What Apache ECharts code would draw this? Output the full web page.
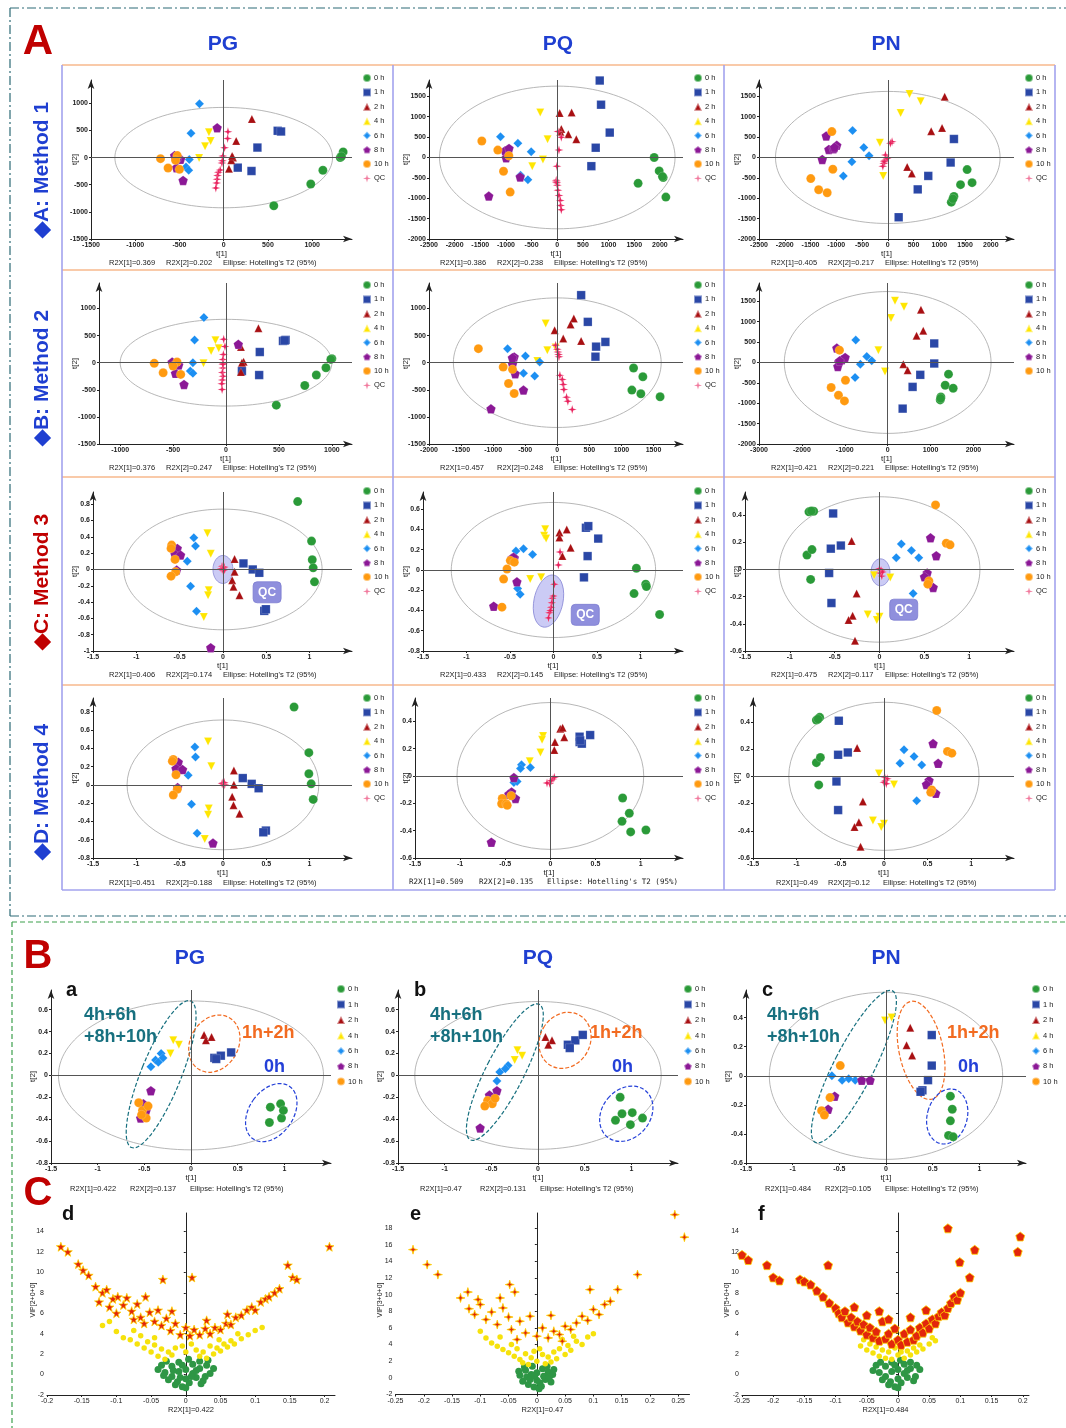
<!DOCTYPE html>
<html>
<head>
<meta charset="utf-8">
<script src="https://cdn.jsdelivr.net/npm/echarts@6/dist/echarts.min.js"></script>
<style>html,body{margin:0;padding:0;background:#fff}#main{width:1066px;height:1428px}</style>
</head>
<body>
<div id="main"></div>
<script>
// ---- groups ----
var groups = ['0 h', '1 h', '2 h', '4 h', '6 h', '8 h', '10 h', 'QC'];

// ---- A: score plots, one list per panel, ordered like groups ----
var pgM1 = [
  [[1350,105],[1317,0],[1121,-234],[984,-487],[566,-888],[1330,20]],
  [[610,494],[648,481],[381,185],[159,-185],[314,-247]],
  [[318,710],[141,308],[104,0],[85,-49],[59,-204],[95,30]],
  [[-167,469],[-148,308],[-211,210],[-278,-6]],
  [[-274,993],[-370,450],[-389,-37],[-426,-173],[-396,-234]],
  [[-74,549],[-555,37],[-488,-31],[-533,-185],[-459,-420],[-520,10]],
  [[-714,-19],[-629,-191],[-500,-216],[-525,37],[-544,-49]],
  [[48,475],[44,350],[10,180],[-10,30],[-20,-100],[-40,-230],[-60,-270],[-70,-330],[-75,-400],[-80,-470],[-89,-560],[-15,-60]]
];
var pqM1 = [
  [[1888,0],[1986,-330],[2064,-494],[2116,-972],[1575,-634],[2050,-470]],
  [[827,1887],[853,1294],[1022,610],[749,239],[664,-214]],
  [[46,1088],[280,1104],[78,700],[215,569],[371,445],[60,630]],
  [[-332,1104],[-189,445],[-280,-49],[-488,-214]],
  [[-1107,511],[-768,346],[-508,140],[-716,-437],[-573,-544]],
  [[-963,198],[-1016,165],[-996,-8],[-723,-478],[-1335,-948],[-940,220]],
  [[-1471,404],[-1159,181],[-944,41],[-1048,-338],[-918,-849]],
  [[13,634],[78,494],[33,181],[-7,-214],[-20,-560],[0,-684],[13,-807],[33,-931],[59,-1055],[65,-1178],[78,-1285],[-20,-600],[-10,-620]]
];
var pnM1 = [
  [[1540,-297],[1412,-667],[1636,-618],[1284,-956],[1233,-1096],[1265,-1013]],
  [[1284,453],[1220,-124],[786,-453],[581,-783],[211,-1467]],
  [[1105,1491],[1054,725],[843,643],[377,-231],[466,-396]],
  [[422,1557],[639,1376],[249,1088],[-153,363],[-89,-453]],
  [[-684,659],[-466,247],[-364,41],[-697,-107],[-863,-453]],
  [[-1195,527],[-1144,198],[-1054,214],[-990,297],[-1272,-49],[-1035,247]],
  [[-1086,634],[-1067,-288],[-1495,-519],[-1342,-791],[-1176,-865]],
  [[83,387],[51,346],[-45,58],[-58,-66],[-77,-148],[-96,-214],[-13,-25],[-70,-107]]
];
var pgM2 = [
  [[1000,74],[944,-93],[853,-228],[744,-420],[475,-784],[990,60]],
  [[538,401],[563,420],[319,197],[150,-154],[313,-228],[555,410]],
  [[306,636],[141,290],[166,19],[141,-173],[150,0]],
  [[-100,413],[-141,216],[-69,265],[-213,-12]],
  [[-209,833],[-297,420],[-313,0],[-338,-154],[-313,-197]],
  [[116,339],[-509,12],[-447,-43],[-478,-197],[-397,-401]],
  [[-678,-12],[-594,-185],[-463,12],[-500,-62],[-428,-216]],
  [[-22,432],[-10,300],[-25,150],[-30,60],[-25,-20],[-30,-100],[-35,-180],[-28,-250],[-35,-320],[-40,-390],[-37,-494],[-30,-30]]
];
var pqM2 = [
  [[1189,-99],[1334,-259],[1163,-506],[1303,-574],[1603,-629]],
  [[372,1246],[476,753],[750,383],[605,296],[595,111]],
  [[258,815],[207,704],[-41,599],[93,444],[372,401]],
  [[-181,722],[-155,228],[-26,278],[-310,31]],
  [[-775,259],[-496,123],[-274,12],[-527,-197],[-352,-247]],
  [[-672,105],[-698,-31],[-656,-204],[-527,-506],[-1034,-851],[-700,90]],
  [[-1230,259],[-843,-80],[-698,-123],[-760,-383],[-672,-568]],
  [[-26,321],[10,197],[26,111],[41,-234],[78,-309],[93,-401],[103,-494],[145,-636],[165,-710],[233,-864],[0,247],[20,150]]
];
var pnM2 = [
  [[1418,-287],[1341,-558],[1527,-631],[1240,-845],[1225,-918],[1235,-880]],
  [[1085,467],[1085,-25],[760,-303],[581,-599],[349,-1132]],
  [[775,1296],[829,779],[674,656],[364,-41],[465,-189]],
  [[171,1517],[380,1369],[78,1091],[-217,303],[-62,-221]],
  [[-744,549],[-488,148],[-372,41],[-636,-41],[-760,-369]],
  [[-1186,353],[-1139,16],[-1070,66],[-992,123],[-1163,-98],[-1120,40]],
  [[-1124,303],[-984,-435],[-1318,-615],[-1147,-804],[-1008,-943]],
  []
];
var pgM3 = [
  [[0.863,0.832],[1.023,0.348],[1.031,0.119],[1.042,0.02],[1.057,-0.152]],
  [[0.237,0.074],[0.344,0],[0.42,-0.041],[0.477,-0.508],[0.496,-0.488]],
  [[0.134,0.127],[0.134,-0.029],[0.107,-0.131],[0.122,-0.213],[0.191,-0.316]],
  [[-0.179,0.443],[-0.141,0.193],[-0.164,-0.254],[-0.172,-0.316],[-0.221,-0.582]],
  [[-0.336,0.389],[-0.317,0.287],[-0.412,0.102],[-0.374,-0.205],[-0.305,-0.512]],
  [[-0.527,0.258],[-0.553,0.184],[-0.489,0.176],[-0.534,-0.008],[-0.141,-0.959]],
  [[-0.592,0.299],[-0.599,0.258],[-0.553,0.123],[-0.546,-0.029],[-0.599,-0.082]],
  [[-0.01,0.04],[0.01,0.02],[0.02,0],[-0.02,0.01],[0,-0.01],[0.015,0.03],[-0.005,0.005],[0.02,-0.005]]
];
var pqM3 = [
  [[0.954,0.017],[1.061,-0.14],[1.069,-0.163],[0.927,-0.233],[1.221,-0.44]],
  [[0.374,0.417],[0.401,0.433],[0.515,0.31],[0.393,0.137],[0.351,-0.073]],
  [[0.153,0.4],[0.069,0.37],[0.069,0.32],[0.198,0.22],[0.103,0.137]],
  [[-0.095,0.403],[-0.107,0.337],[-0.084,0.31],[-0.267,-0.09],[-0.141,-0.073]],
  [[-0.431,0.187],[-0.344,0.21],[-0.24,0.153],[-0.412,-0.183],[-0.382,-0.24]],
  [[-0.45,0.12],[-0.477,0.117],[-0.42,-0.117],[-0.687,-0.357],[-0.46,0.125]],
  [[-0.496,0.093],[-0.45,0.077],[-0.534,0.01],[-0.573,-0.09],[-0.592,-0.367]],
  [[0.057,0.05],[0.076,0.177],[0.011,-0.14],[-0.011,-0.28],[-0.019,-0.323],[-0.027,-0.367],[-0.046,-0.423],[-0.057,-0.473],[0,-0.257],[-0.035,-0.4]]
];
var pnM3 = [
  [[-0.787,0.424],[-0.734,0.428],[-0.809,0.106],[-0.753,0.146],[-0.768,-0.073],[-0.76,0.43]],
  [[-0.517,0.412],[-0.431,0.176],[-0.543,0.153],[-0.562,-0.026],[-0.536,-0.247]],
  [[-0.311,0.209],[-0.255,-0.176],[-0.3,-0.341],[-0.345,-0.372],[-0.273,-0.525]],
  [[-0.06,-0.042],[0.12,-0.059],[-0.131,-0.332],[0,-0.348],[-0.03,-0.372]],
  [[0.243,0.188],[0.356,0.139],[0.438,0.087],[0.187,0.087],[0.375,-0.176]],
  [[0.569,0.233],[0.633,0.101],[0.532,-0.026],[0.502,-0.054],[0.599,-0.132]],
  [[0.625,0.475],[0.745,0.193],[0.787,0.181],[0.551,-0.085],[0.539,-0.108]],
  [[0.019,-0.007],[0.007,-0.026],[0.026,-0.049],[0,0.005],[0.034,-0.019]]
];
var pgM4 = [
  [[0.821,0.852],[0.992,0.352],[0.992,0.122],[1.019,0.011],[1.042,-0.159]],
  [[0.229,0.074],[0.332,0.011],[0.412,-0.037],[0.496,-0.5],[0.466,-0.519]],
  [[0.126,0.156],[0.126,0],[0.107,-0.13],[0.122,-0.222],[0.191,-0.315]],
  [[-0.172,0.474],[-0.134,0.204],[-0.164,-0.259],[-0.172,-0.326],[-0.21,-0.593]],
  [[-0.324,0.415],[-0.317,0.304],[-0.401,0.104],[-0.363,-0.211],[-0.298,-0.53]],
  [[-0.515,0.248],[-0.542,0.178],[-0.466,0.167],[-0.523,-0.03],[-0.115,-0.637]],
  [[-0.573,0.278],[-0.584,0.259],[-0.542,0.111],[-0.527,-0.048],[-0.573,-0.111]],
  [[0,0.02],[0.01,0.01],[0.02,0],[-0.01,0.015],[0.015,0.025],[0.005,-0.005]]
];
var pqM4 = [
  [[0.801,-0.161],[0.875,-0.273],[0.794,-0.332],[0.89,-0.409],[1.059,-0.395]],
  [[0.324,0.287],[0.441,0.299],[0.324,0.248],[0.349,0.236],[0.33,0.26]],
  [[0.11,0.346],[0.136,0.353],[0.154,0.283],[0.051,0.248],[0.044,0.189]],
  [[-0.081,0.292],[-0.092,0.264],[-0.11,0.171],[-0.228,0.107]],
  [[-0.32,0.082],[-0.331,0.054],[-0.221,0.061],[-0.404,-0.047],[-0.368,-0.04]],
  [[-0.404,-0.012],[-0.43,-0.117],[-0.46,-0.133],[-0.386,-0.164],[-0.654,-0.484]],
  [[-0.533,-0.164],[-0.54,-0.203],[-0.489,-0.203],[-0.434,-0.145],[-0.478,-0.215]],
  [[-0.007,-0.056],[-0.037,-0.051],[0.029,-0.023],[0.044,-0.009],[0.007,-0.035]]
];
var pnM4 = [
  [[-0.774,0.413],[-0.736,0.433],[-0.774,0.1],[-0.728,0.138],[-0.747,-0.063],[-0.755,0.42]],
  [[-0.517,0.408],[-0.525,0.158],[-0.414,0.175],[-0.544,-0.038],[-0.525,-0.248]],
  [[-0.307,0.208],[-0.241,-0.185],[-0.287,-0.338],[-0.337,-0.373],[-0.268,-0.518]],
  [[-0.057,0.02],[0.115,-0.06],[-0.126,-0.325],[0,-0.348],[-0.031,-0.373]],
  [[0.23,0.195],[0.345,0.145],[0.433,0.083],[0.184,0.095],[0.375,-0.18]],
  [[0.563,0.24],[0.621,0.095],[0.517,-0.03],[0.487,-0.06],[0.594,-0.125]],
  [[0.605,0.483],[0.728,0.183],[0.778,0.17],[0.548,-0.1],[0.536,-0.118]],
  [[0.019,-0.03],[0,-0.043],[0.038,-0.018],[0.008,-0.005],[0.027,-0.055]]
];

// ---- B: score plots without QC ----
var pgB = [
  [[0.85,-0.29],[0.96,-0.26],[0.97,-0.39],[0.84,-0.43],[0.99,-0.32]],
  [[0.25,0.16],[0.32,0.18],[0.43,0.21],[0.27,0.15]],
  [[0.14,0.37],[0.22,0.35],[0.16,0.32]],
  [[-0.19,0.32],[-0.13,0.28],[-0.22,0.2]],
  [[-0.32,0.2],[-0.38,0.14],[-0.3,0.16],[-0.43,0.08],[-0.35,0.12]],
  [[-0.43,-0.14],[-0.51,-0.26],[-0.48,-0.32],[-0.54,-0.39]],
  [[-0.56,-0.25],[-0.52,-0.32],[-0.48,-0.39],[-0.53,-0.36],[-0.46,-0.28]]
];
var pqB = [
  [[0.88,-0.2],[0.9,-0.35],[1.01,-0.34],[0.83,-0.41],[1.12,-0.39],[0.99,-0.45]],
  [[0.32,0.28],[0.4,0.32],[0.48,0.37],[0.34,0.25]],
  [[0.08,0.35],[0.15,0.32],[0.11,0.28]],
  [[-0.22,0.23],[-0.17,0.18],[-0.25,0.14]],
  [[-0.32,0.09],[-0.41,0.03],[-0.35,0.06],[-0.44,-0.05]],
  [[-0.44,-0.14],[-0.52,-0.18],[-0.62,-0.48],[-0.48,-0.22]],
  [[-0.54,-0.23],[-0.49,-0.26],[-0.57,-0.28],[-0.46,-0.21]]
];
var pnB = [
  [[0.69,-0.14],[0.71,-0.23],[0.69,-0.31],[0.67,-0.41],[0.72,-0.42]],
  [[0.49,0.28],[0.49,0.07],[0.45,-0.03],[0.39,-0.1],[0.37,-0.11]],
  [[0.26,0.33],[0.22,0.21],[0.28,0.14]],
  [[-0.01,0.38],[0.06,0.4]],
  [[-0.33,-0.03],[-0.47,-0.03],[-0.58,0],[-0.4,-0.02]],
  [[-0.26,-0.03],[-0.17,-0.03],[-0.55,-0.14],[-0.62,-0.23]],
  [[-0.69,-0.24],[-0.6,-0.15],[-0.49,0.07],[-0.66,-0.27]]
];

// ---- C: VIP plots ----
var vipPG_green = [[-0.03,0.2],[-0.025,-0.5],[-0.02,0.8],[-0.015,-1],[-0.01,0.3],[-0.005,-1.2],[0,0.5],[0.005,-0.8],[0.01,1],[0.015,-0.3],[0.02,0.6],[0.025,-0.6],[0.03,0.9],[0.035,0.1],[-0.035,0.9],[-0.02,-0.2],[0,-0.4],[0.01,0.1],[-0.01,1.2],[0.02,1.3],[-0.028,1.3],[0.004,1.5],[-0.012,-0.7],[0.028,-0.2],[0.04,0.6],[-0.04,0.5],[0,-1.3],[0.015,0.4],[-0.005,0.9],[0.032,1.4],[-0.018,0.4],[0.008,-0.2],[-0.032,-0.1],[0.022,-0.9],[-0.008,-0.3]];
var vipPG_yellow = [[-0.12,4.8],[-0.1,4.2],[-0.09,3.6],[-0.08,3.4],[-0.07,3],[-0.065,3.8],[-0.06,2.6],[-0.055,3.2],[-0.05,2.2],[-0.045,2.9],[-0.04,1.8],[-0.035,2.5],[-0.03,1.5],[-0.025,2.2],[-0.02,1.9],[-0.015,2.6],[0.015,2.4],[0.02,1.8],[0.025,2.2],[0.03,1.6],[0.035,2.8],[0.04,2],[0.045,2.6],[0.05,2.3],[0.055,3],[0.06,2.7],[0.065,3.3],[0.07,3],[0.08,3.5],[0.09,3.9],[0.1,4.3],[0.11,4.6],[-0.11,5.2],[-0.075,4.3],[0.075,4],[0,2.2],[-0.005,2.8],[0.008,3],[-0.045,3.6],[0.048,3.4]];
var vipPG_red = [[-0.18,12.5],[-0.17,12],[-0.155,10.8],[-0.148,10.2],[-0.14,9.7],[-0.13,8.6],[-0.12,8],[-0.114,8.3],[-0.105,7.4],[-0.098,7.6],[-0.09,6.8],[-0.085,7.5],[-0.078,6.2],[-0.07,6.9],[-0.065,5.6],[-0.058,7.6],[-0.052,6.1],[-0.045,5.2],[-0.04,6.3],[-0.035,4.8],[-0.033,9.3],[-0.028,5.5],[-0.022,4.3],[-0.015,5],[-0.008,3.9],[0,4.6],[0.009,9.5],[0.006,3.8],[0.012,4.4],[0.02,3.9],[0.028,4.5],[0.035,4],[0.042,4.6],[0.05,4.4],[0.058,5],[0.065,4.9],[0.072,5.6],[0.08,5.8],[0.088,6.3],[0.095,6.6],[0.1,6.3],[0.108,7.1],[0.115,7.4],[0.12,7.6],[0.128,8],[0.135,8.4],[0.147,10.7],[0.154,9.5],[0.16,9.3],[0.207,12.5],[-0.125,7.1],[-0.06,5],[-0.02,6.2],[0.03,5.3],[-0.1,6],[-0.11,6.6],[0.06,5.9],[-0.075,5.4]];

var vipPQ_green = [[-0.03,0.3],[-0.025,-0.4],[-0.02,0.9],[-0.015,-0.8],[-0.01,0.4],[-0.005,-1.1],[0,0.6],[0.005,-0.6],[0.01,1.1],[0.015,-0.2],[0.02,0.7],[0.025,-0.5],[0.03,1],[-0.022,1.3],[0,-0.3],[0.012,0.2],[-0.008,1.4],[0.018,1.4],[0.004,-1.3],[-0.018,0.1],[0.028,0.4],[-0.032,0.8],[0.008,-1],[-0.012,-0.2],[0.022,0.1],[-0.004,0.2]];
var vipPQ_yellow = [[-0.09,4.8],[-0.08,4.2],[-0.07,3.8],[-0.06,3.4],[-0.05,3],[-0.04,2.6],[-0.035,3.5],[-0.03,2.2],[-0.025,1.8],[-0.02,2.9],[-0.015,1.6],[-0.01,2.4],[0,2],[0.01,2.8],[0.015,1.7],[0.02,2.5],[0.025,1.9],[0.03,3.1],[0.035,2.3],[0.04,3.5],[0.05,2.8],[0.055,3.9],[0.06,3.3],[0.07,4.4],[0.08,4],[0.09,4.9],[0.1,5.3],[-0.1,5.6],[-0.065,4.9],[-0.045,4],[0.065,5],[0.005,3.5],[-0.005,3.2],[0.045,4.6]];
var vipPQ_red = [[-0.219,15.4],[-0.194,13.6],[-0.175,12.4],[-0.122,10.3],[-0.104,9.4],[-0.048,11.2],[-0.039,10.3],[0.094,10.6],[0.143,10.6],[0.178,12.4],[0.244,19.6],[0.261,16.9],[-0.12,8.3],[-0.11,7.6],[-0.1,8.8],[-0.09,7],[-0.08,7.9],[-0.07,6.4],[-0.06,8.4],[-0.05,7.3],[-0.045,5.8],[-0.03,6.8],[-0.02,5.4],[-0.012,7.4],[0,5],[0.01,6],[0.02,4.8],[0.03,5.6],[0.04,5.2],[0.05,6.2],[0.06,5.8],[0.07,6.6],[0.08,7.4],[0.09,6.9],[0.1,8.2],[0.11,7.6],[0.12,8.8],[0.13,9.2],[-0.135,9.6],[-0.065,9.6],[0.025,7.5],[-0.035,4.6],[0.045,4.4]];

var vipPN_green = [[-0.03,0.2],[-0.025,-0.5],[-0.02,0.8],[-0.015,-1],[-0.01,0.3],[-0.005,-1.2],[0,0.5],[0.005,-0.8],[0.01,1],[0.015,-0.3],[0.02,0.6],[0.025,-0.6],[0.03,0.9],[-0.035,0.9],[-0.02,-0.2],[0,-0.4],[0.01,0.1],[-0.01,1.2],[0.02,1.2],[0.004,1.4],[-0.012,-0.7],[0.028,-0.2],[-0.04,0.4],[0,-1.3],[0.015,0.4],[-0.005,0.9],[0.035,0.5],[-0.028,1.2]];
var vipPN_yellow = [[-0.06,2.8],[-0.05,2.4],[-0.045,3],[-0.04,2.1],[-0.035,2.7],[-0.03,1.8],[-0.025,2.4],[-0.02,1.6],[-0.015,2.2],[-0.01,1.5],[0,1.9],[0.01,1.6],[0.015,2.3],[0.02,1.9],[0.025,2.6],[0.03,2.2],[0.035,2.9],[0.04,2.5],[0.05,3],[0.055,3.6],[0.06,3.3],[-0.055,3.4],[-0.005,2.6],[0.005,2.2]];
var vipPN_red = [[-0.258,13.5],[-0.25,11.7],[-0.24,11.2],[-0.21,10.7],[-0.2,9.5],[-0.19,9.2],[-0.157,9.3],[-0.15,9.1],[-0.112,10.7],[0.099,11],[0.115,9.5],[0.123,12.2],[0.196,13.5],[0.192,12],[0.08,14.3],[-0.13,8.2],[-0.12,7.6],[-0.11,7],[-0.1,6.5],[-0.095,6],[-0.09,5.6],[-0.085,6.2],[-0.08,5.1],[-0.075,5.6],[-0.07,4.7],[-0.065,5.2],[-0.06,4.3],[-0.055,4.9],[-0.05,3.9],[-0.045,4.6],[-0.04,3.6],[-0.035,4.2],[-0.03,3.3],[-0.025,5.2],[-0.02,3.5],[-0.015,4],[-0.01,3],[-0.005,4.5],[0,3.4],[0.005,2.9],[0.01,4],[0.015,3.2],[0.02,4.4],[0.025,3.4],[0.03,3.8],[0.035,4.6],[0.04,4.1],[0.045,5],[0.05,4.5],[0.055,5.4],[0.06,5],[0.065,5.7],[0.07,6.1],[0.075,5.8],[0.08,6.5],[0.085,7],[0.09,7.6],[0.095,7.3],[0.1,8],[-0.14,8.8],[-0.07,6.6],[-0.05,5.8],[-0.03,6.2],[0.02,5.6],[0.045,6.3],[-0.015,5.4]];

// ---- texts ----
var r2xA = [
  ['R2X[1]=0.369','R2X[2]=0.202'],['R2X[1]=0.386','R2X[2]=0.238'],['R2X[1]=0.405','R2X[2]=0.217'],
  ['R2X[1]=0.376','R2X[2]=0.247'],['R2X[1=0.457','R2X[2]=0.248'],['R2X[1]=0.421','R2X[2]=0.221'],
  ['R2X[1]=0.406','R2X[2]=0.174'],['R2X[1]=0.433','R2X[2]=0.145'],['R2X[1]=0.475','R2X[2]=0.117'],
  ['R2X[1]=0.451','R2X[2]=0.188'],['R2X[1]=0.509','R2X[2]=0.135'],['R2X[1]=0.49','R2X[2]=0.12']
];
var r2xB = [['R2X[1]=0.422','R2X[2]=0.137'],['R2X[1]=0.47','R2X[2]=0.131'],['R2X[1]=0.484','R2X[2]=0.105']];
var vipNames = ['VIP[2+0+0]','VIP[3+0+0]','VIP[5+0+0]'];
var vipR2x = ['R2X[1]=0.422','R2X[1]=0.47','R2X[1]=0.484'];
var colTitles = ['PG','PQ','PN'];
var methodLabels = ['\u25C6A: Method 1','\u25C6B: Method 2','\u25C6C: Method 3','\u25C6D: Method 4'];

// ---- tick labels ----
var tk1500 = [-1500,-1000,-500,0,500,1000];
var tk2500 = [-2500,-2000,-1500,-1000,-500,0,500,1000,1500,2000];
var tk2000 = [-2000,-1500,-1000,-500,0,500,1000,1500];
var tk1000 = [-1000,-500,0,500,1000];
var tk3000 = [-3000,-2000,-1000,0,1000,2000];
var tk15 = [-1.5,-1,-0.5,0,0.5,1];
var tkY10 = [-1,-0.8,-0.6,-0.4,-0.2,0,0.2,0.4,0.6,0.8];
var tkY08 = [-0.8,-0.6,-0.4,-0.2,0,0.2,0.4,0.6,0.8];
var tkY08s = [-0.8,-0.6,-0.4,-0.2,0,0.2,0.4,0.6];
var tkY06 = [-0.6,-0.4,-0.2,0,0.2,0.4];
var tkVd = [-0.2,-0.15,-0.1,-0.05,0,0.05,0.1,0.15,0.2];
var tkVe = [-0.25,-0.2,-0.15,-0.1,-0.05,0,0.05,0.1,0.15,0.2,0.25];
var tkVf = [-0.25,-0.2,-0.15,-0.1,-0.05,0,0.05,0.1,0.15,0.2];
var tkV14 = [-2,0,2,4,6,8,10,12,14];
var tkV18 = [-2,0,2,4,6,8,10,12,14,16,18];

// ---- styling ----
var FONT = '"Liberation Sans", Arial, sans-serif';
var SYM_PENT = 'path://M0,-10L9.5,-3.1L5.9,8.1L-5.9,8.1L-9.5,-3.1Z';
var SYM_STAR4 = 'path://M0,-10L2.2,-2.2L10,0L2.2,2.2L0,10L-2.2,2.2L-10,0L-2.2,-2.2Z';
var SYM_STAR5 = 'path://M0,-10L2.35,-3.24L9.51,-3.09L3.8,1.24L5.88,8.09L0,4L-5.88,8.09L-3.8,1.24L-9.51,-3.09L-2.35,-3.24Z';
var gColors = ['#2a9a38','#2a47a6','#a80f12','#ffe600','#1c8ff2','#8b1896','#ff9a10','#e8205c'];
var gSymbols = ['circle','rect','triangle','triangle','diamond',SYM_PENT,'circle',SYM_STAR4];
var gRotate = [0,0,0,180,0,0,0,0];
var gSize = [9,8.5,8,8,9,9.5,9,9];

var grids = [], xAxes = [], yAxes = [], series = [], legends = [], gfx = [], ellipses = [];

function fmt(v) { return String(v); }

function axis(gi, isX, range, ticks, name, gap, bold, arrow) {
  return {
    type: 'value', gridIndex: gi, min: range[0], max: range[1],
    interval: ticks[1] - ticks[0],
    position: isX ? 'bottom' : 'left',
    name: name, nameLocation: 'middle', nameGap: gap,
    nameTextStyle: {fontSize: 8, color: '#222', fontFamily: FONT},
    axisLine: {onZero: false, symbol: arrow ? ['none', 'arrow'] : 'none', symbolSize: [5, 9], lineStyle: {color: '#222', width: 1}},
    axisTick: {show: true, length: 2, customValues: ticks, lineStyle: {color: '#222'}},
    axisLabel: {customValues: ticks, formatter: fmt, fontSize: 7, fontWeight: bold ? 'bold' : 'normal', color: '#222', margin: 3, fontFamily: FONT},
    splitLine: {show: false}
  };
}

function txt(s, x, y, size, color, o) {
  o = o || {};
  return {type: 'text', x: x, y: y, rotation: o.rot || 0, z: 20, silent: true,
    style: {text: s, fontSize: size, fontWeight: o.bold ? 'bold' : 'normal', fontFamily: o.family || FONT, fill: color,
      textAlign: o.align || 'left', textVerticalAlign: 'middle', align: o.align || 'left', verticalAlign: 'middle'}};
}
function ln(x1, y1, x2, y2, color, w, dash) {
  return {type: 'line', silent: true, z: 0, shape: {x1: x1, y1: y1, x2: x2, y2: y2}, style: {stroke: color, lineWidth: w, lineDash: dash || null}};
}

function scorePanel(data, rect, xr, xt, yr, yt, nameX, legendAt, ell) {
  var gi = grids.length;
  grids.push({left: rect[0], top: rect[1], width: rect[2], height: rect[3]});
  xAxes.push(axis(gi, true, xr, xt, 't[1]', 9, true, true));
  yAxes.push(axis(gi, false, yr, yt, '', 0, true, true));
  gfx.push(txt('t[2]', nameX, rect[1] + rect[3] / 2, 8, '#222', {rot: Math.PI / 2, align: 'center'}));
  var names = [];
  data.forEach(function (pts, g) {
    if (!pts.length) return;
    names.push(groups[g]);
    var s = {type: 'scatter', name: groups[g], xAxisIndex: gi, yAxisIndex: gi, data: pts, silent: true,
      symbol: gSymbols[g], symbolSize: gSize[g], symbolRotate: gRotate[g],
      itemStyle: {color: gColors[g], opacity: 1, borderColor: 'rgba(255,255,255,0.45)', borderWidth: 0.4}, z: g === 7 ? 4 : 3};
    if (names.length === 1) {
      s.markLine = {silent: true, symbol: 'none', animation: false, label: {show: false},
        lineStyle: {color: '#555', width: 1, type: 'solid'}, data: [{xAxis: 0}, {yAxis: 0}]};
    }
    series.push(s);
  });
  legends.push({orient: 'vertical', left: legendAt[0], top: legendAt[1], padding: 0, itemWidth: 8, itemHeight: 8,
    itemGap: legendAt[2], selectedMode: false, data: names,
    textStyle: {fontSize: 7.5, lineHeight: 8, color: '#222', fontFamily: FONT, padding: [0, 0, 0, -2]}});
  ellipses.push({gi: gi, a: ell[0], b: ell[1]});
  return gi;
}

// ---- section A layout ----
var colLeft = [62, 393, 724];
var rowTop = [65, 270, 477, 685];
var rowPad = [15, 13, 15, 13];
var rowAxis = [174, 174, 174, 173];
var legTop = [8, 10, 9, 8];
var dataA = [pgM1, pqM1, pnM1, pgM2, pqM2, pnM2, pgM3, pqM3, pnM3, pgM4, pqM4, pnM4];
var xRangeA = [[-1500,1450],[-2500,2450],[-2500,2450],[-1200,1190],[-2000,1960],[-3000,2945],[-1.5,1.49],[-1.5,1.49],[-1.5,1.5],[-1.5,1.49],[-1.5,1.47],[-1.5,1.49]];
var xTickA = [tk1500, tk2500, tk2500, tk1000, tk2000, tk3000, tk15, tk15, tk15, tk15, tk15, tk15];
var yRangeA = [[-1500,1430],[-2000,1900],[-2000,1900],[-1500,1470],[-1500,1470],[-2000,1950],[-1,0.95],[-0.8,0.77],[-0.6,0.57],[-0.8,0.95],[-0.6,0.57],[-0.6,0.575]];
var yTickA = [tk1500, tk2000, tk2000, tk1500, tk1500, tk2000, tkY10, tkY08s, tkY06, tkY08, tkY06, tkY06];
var yoffA = [29, 36, 35, 37, 36, 35, 31, 30, 21, 31, 22, 29];
var ellA = [[1230,925],[2295,1750],[2180,1620],[1000,800],[1620,1195],[2410,1740],[1.145,0.74],[1.175,0.667],[1.12,0.535],[1.107,0.71],[1.035,0.537],[1.09,0.544]];

for (var i = 0; i < 12; i++) {
  var r = Math.floor(i / 3), c = i % 3;
  var L = colLeft[c], T = rowTop[r];
  var rect = [L + yoffA[i], T + rowPad[r], 290 - yoffA[i], rowAxis[r] - rowPad[r]];
  scorePanel(dataA[i], rect, xRangeA[i], xTickA[i], yRangeA[i], yTickA[i], L + 13,
    [L + 300, T + legTop[r], 4.4], ellA[i]);
  var ty = T + 197.5;
  if (i === 10) {
    gfx.push(txt(r2xA[i][0], L + 16, ty, 7.5, '#222', {family: '"DejaVu Sans Mono", monospace'}));
    gfx.push(txt(r2xA[i][1], L + 86, ty, 7.5, '#222', {family: '"DejaVu Sans Mono", monospace'}));
    gfx.push(txt("Ellipse: Hotelling's T2 (95%)", L + 154, ty, 7.5, '#222', {family: '"DejaVu Sans Mono", monospace'}));
  } else {
    var dx = i === 11 ? [52, 104, 159] : [47, 104, 161];
    gfx.push(txt(r2xA[i][0], L + dx[0], ty, 7.5, '#222'));
    gfx.push(txt(r2xA[i][1], L + dx[1], ty, 7.5, '#222'));
    gfx.push(txt("Ellipse: Hotelling's T2 (95%)", L + dx[2], ty, 7.5, '#222'));
  }
}

// ---- section B layout ----
var dataB = [pgB, pqB, pnB];
var leftB = [51, 398, 746];
var yRangeB = [[-0.8,0.78],[-0.8,0.78],[-0.6,0.59]];
var yTickB = [tkY08s, tkY08s, tkY06];
var ellB = [[1.42,0.68],[1.32,0.675],[1.25,0.575]];
var gridB = [];
for (var j = 0; j < 3; j++) {
  gridB.push(scorePanel(dataB[j], [leftB[j], 990, 280, 173], [-1.5,1.5], tk15, yRangeB[j], yTickB[j], [33, 380, 728][j],
    [leftB[j] + 285, 984, 5.5], ellB[j]));
  var bx = [70, 420, 765][j];
  gfx.push(txt(r2xB[j][0], bx, 1189, 7.5, '#222'));
  gfx.push(txt(r2xB[j][1], bx + 60, 1189, 7.5, '#222'));
  gfx.push(txt("Ellipse: Hotelling's T2 (95%)", bx + 120, 1189, 7.5, '#222'));
}

// ---- section C layout (VIP plots) ----
var vipSets = [[vipPG_green, vipPG_yellow, vipPG_red], [vipPQ_green, vipPQ_yellow, vipPQ_red], [vipPN_green, vipPN_yellow, vipPN_red]];
var vipRect = [[47,1213,288,182],[395.5,1213,294,181.5],[742,1213,287,182]];
var vipX = [[-0.2,0.215],[-0.25,0.27],[-0.25,0.21]];
var vipXT = [tkVd, tkVe, tkVf];
var vipY = [[-2,15.8],[-2,19.8],[-2,15.8]];
var vipYT = [tkV14, tkV18, tkV14];
var vipRedSym = [SYM_STAR5, SYM_STAR4, SYM_PENT];
for (var k = 0; k < 3; k++) {
  var gi = grids.length;
  grids.push({left: vipRect[k][0], top: vipRect[k][1], width: vipRect[k][2], height: vipRect[k][3]});
  var xa = axis(gi, true, vipX[k], vipXT[k], vipR2x[k], 11, false, false);
  xa.nameTextStyle.fontSize = 7.5;
  xAxes.push(xa);
  var ya = axis(gi, false, vipY[k], vipYT[k], '', 0, false, false);
  ya.axisLine.onZero = true;
  yAxes.push(ya);
  series.push({type: 'scatter', xAxisIndex: gi, yAxisIndex: gi, data: vipSets[k][0], symbolSize: 7, silent: true,
    itemStyle: {color: '#2e9645', opacity: 1}, z: 3});
  series.push({type: 'scatter', xAxisIndex: gi, yAxisIndex: gi, data: vipSets[k][1], symbolSize: 5.5, silent: true,
    itemStyle: {color: '#f6e20c', opacity: 1}, z: 4});
  series.push({type: 'scatter', xAxisIndex: gi, yAxisIndex: gi, data: vipSets[k][2], symbol: vipRedSym[k], symbolSize: 9, silent: true,
    itemStyle: {color: '#e2260c', opacity: 1, borderColor: '#ffd400', borderWidth: 0.8}, z: 5});
  gfx.push(txt(vipNames[k], [33, 380, 727][k], 1300, 7, '#222', {rot: Math.PI / 2, align: 'center'}));
}

var option = {
  animation: false,
  backgroundColor: '#fff',
  textStyle: {fontFamily: FONT},
  grid: grids, xAxis: xAxes, yAxis: yAxes, legend: legends, series: series
};

var chart = echarts.init(document.getElementById('main'), null, {renderer: 'canvas'});
chart.setOption(option);

// ---- frames, titles, annotations ----
gfx.push(ln(10, 8, 1066, 8, '#2c6a76', 1.2, [9, 3, 2, 3]));
gfx.push(ln(10, 8, 10, 916, '#2c6a76', 1.2, [9, 3, 2, 3]));
gfx.push(ln(10, 916, 1066, 916, '#2c6a76', 1.2, [9, 3, 2, 3]));
gfx.push(ln(12, 922, 1066, 922, '#3ca04c', 1.2, [5, 3]));
gfx.push(ln(12, 922, 12, 1428, '#3ca04c', 1.2, [5, 3]));
rowTop.concat([890]).forEach(function (y) { gfx.push(ln(62, y, 1055, y, y === 890 ? '#a3a3ee' : '#f7b98c', 1.6)); });
[62, 393, 724, 1055].forEach(function (x) { gfx.push(ln(x, 65, x, 890, '#a3a3ee', 1.6)); });

gfx.push(txt('A', 38, 42, 42, '#c00000', {bold: true, align: 'center'}));
gfx.push(txt('B', 38, 957, 40, '#c00000', {bold: true, align: 'center'}));
gfx.push(txt('C', 38, 1194, 40, '#c00000', {bold: true, align: 'center'}));
[223, 558, 886].forEach(function (x, n) { gfx.push(txt(colTitles[n], x, 44, 21, '#1f3fd1', {bold: true, align: 'center'})); });
[190, 538, 886].forEach(function (x, n) { gfx.push(txt(colTitles[n], x, 958, 21, '#1f3fd1', {bold: true, align: 'center'})); });
[170, 378, 582, 792].forEach(function (y, n) {
  gfx.push(txt(methodLabels[n], 42, y, 21, n === 2 ? '#c00000' : '#1f3fd1', {bold: true, align: 'center', rot: Math.PI / 2}));
});
['a', 'b', 'c'].forEach(function (s, n) { gfx.push(txt(s, [66, 414, 762][n], 990, 20, '#111', {bold: true})); });
['d', 'e', 'f'].forEach(function (s, n) { gfx.push(txt(s, [62, 410, 758][n], 1214, 20, '#111', {bold: true})); });
[84, 430, 767].forEach(function (x, n) {
  gfx.push(txt('4h+6h', x, 1015, 18, '#17707f', {bold: true}));
  gfx.push(txt('+8h+10h', x, 1037, 18, '#17707f', {bold: true}));
  gfx.push(txt('1h+2h', [242, 590, 947][n], 1033, 18, '#f26b21', {bold: true}));
  gfx.push(txt('0h', [264, 612, 958][n], 1067, 18, '#2440d8', {bold: true}));
});

function px(gi, v) { return chart.convertToPixel({gridIndex: gi}, v); }
ellipses.forEach(function (e) {
  var c0 = px(e.gi, [0, 0]), c1 = px(e.gi, [e.a, e.b]);
  gfx.push({type: 'ellipse', x: c0[0], y: c0[1], silent: true, z: 1,
    shape: {cx: 0, cy: 0, rx: Math.abs(c1[0] - c0[0]), ry: Math.abs(c1[1] - c0[1])},
    style: {fill: 'none', stroke: '#a5a5a5', lineWidth: 0.8}});
});

// QC highlight ellipses and boxes in method 3 panels (grid 6,7,8)
var qcMarks = [
  {gi: 6, c: [0, 0], r: [10, 14], rot: 0, box: [0.51, -0.28]},
  {gi: 7, c: [-0.057, -0.307], r: [14.5, 26.5], rot: -12, box: [0.366, -0.443]},
  {gi: 8, c: [0.011, -0.021], r: [9.5, 13.5], rot: 0, box: [0.27, -0.296]}
];
qcMarks.forEach(function (q) {
  var p = px(q.gi, q.c), b = px(q.gi, q.box);
  gfx.push({type: 'ellipse', x: p[0], y: p[1], rotation: q.rot * Math.PI / 180, silent: true, z: 1,
    shape: {cx: 0, cy: 0, rx: q.r[0], ry: q.r[1]}, style: {fill: 'rgba(160,160,236,0.55)', stroke: '#8a8ad6', lineWidth: 0.8}});
  gfx.push({type: 'rect', silent: true, z: 15, shape: {x: b[0] - 14, y: b[1] - 10.5, width: 28, height: 21, r: 4},
    style: {fill: '#8f8fdd', stroke: '#7c7cd0', lineWidth: 0.8}});
  gfx.push(txt('QC', b[0], b[1], 12, '#ffffff', {bold: true, align: 'center'}));
});

// dashed cluster ellipses in section B
var clusterEll = [
  {k: 0, c: [-0.32, 0.01], r: [20, 79], rot: -22, col: '#17707f'},
  {k: 0, c: [0.25, 0.29], r: [24, 30], rot: -30, col: '#f26b21'},
  {k: 0, c: [0.86, -0.34], r: [22, 32], rot: -35, col: '#2440d8'},
  {k: 1, c: [-0.355, 0.03], r: [19, 76], rot: -27, col: '#17707f'},
  {k: 1, c: [0.29, 0.32], r: [25, 29], rot: -30, col: '#f26b21'},
  {k: 1, c: [0.946, -0.35], r: [24, 30], rot: -40, col: '#2440d8'},
  {k: 2, c: [-0.344, 0.063], r: [20, 85], rot: -27, col: '#17707f'},
  {k: 2, c: [0.376, 0.175], r: [22, 50], rot: 12, col: '#f26b21'},
  {k: 2, c: [0.656, -0.28], r: [20, 28], rot: -15, col: '#2440d8'}
];
clusterEll.forEach(function (e) {
  var p = px(gridB[e.k], e.c);
  gfx.push({type: 'ellipse', x: p[0], y: p[1], rotation: e.rot * Math.PI / 180, silent: true, z: 2,
    shape: {cx: 0, cy: 0, rx: e.r[0], ry: e.r[1]}, style: {fill: 'none', stroke: e.col, lineWidth: 1.2, lineDash: [4, 2]}});
});

chart.setOption({graphic: {elements: gfx}});
</script>
</body>
</html>
